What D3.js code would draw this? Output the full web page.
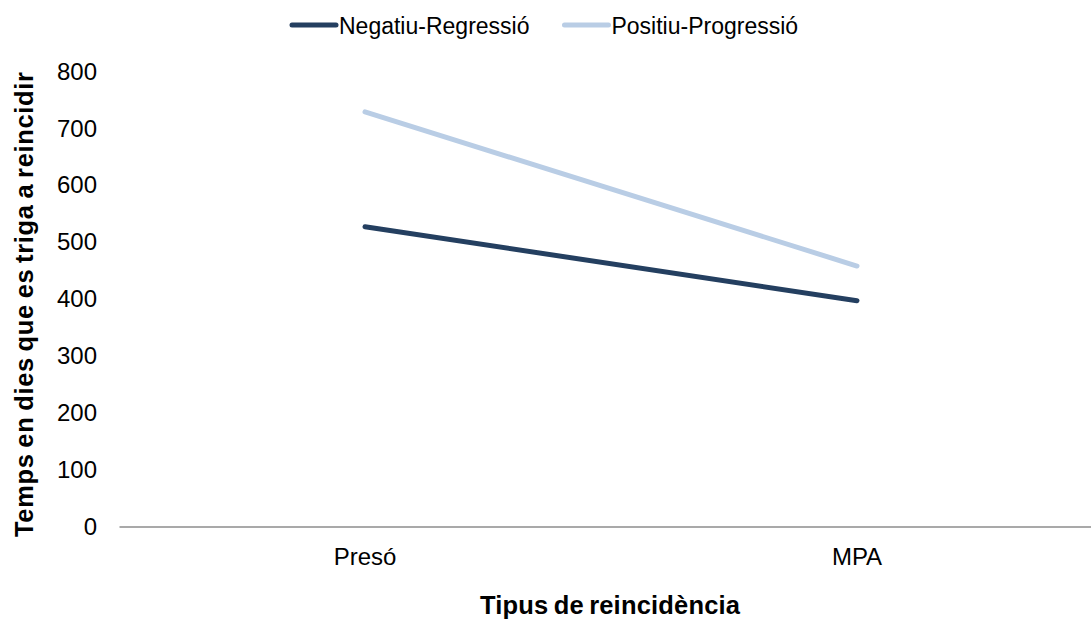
<!DOCTYPE html>
<html>
<head>
<meta charset="utf-8">
<script src="https://cdn.jsdelivr.net/npm/d3@7"></script>
<style>
  html, body { margin: 0; padding: 0; background: #fff; }
  svg { display: block; font-family: "Liberation Sans", Arial, sans-serif; }
</style>
</head>
<body>
<svg id="chart" width="1091" height="619"></svg>
<script>
const categories = ["Presó", "MPA"];
const seriesNames = ["Negatiu-Regressió", "Positiu-Progressió"];
const negatiuValues = [527, 397];
const positiuValues = [729, 458];
const yTicks = [0, 100, 200, 300, 400, 500, 600, 700, 800];
const seriesColors = ["#243F60", "#B9CDE5"];

const series = [
  { name: seriesNames[0], values: negatiuValues, color: seriesColors[0] },
  { name: seriesNames[1], values: positiuValues, color: seriesColors[1] }
];

const svg = d3.select("#chart");

const x = d3.scaleBand().domain(categories).range([119, 1103]);
const y = d3.scaleLinear().domain([0, 800]).range([526.5, 71.5]);

// Y axis tick labels (no axis line)
const yAxis = d3.axisLeft(y).tickValues(yTicks).tickSize(0).tickPadding(0).tickFormat(d3.format("d"));
const gy = svg.append("g").attr("transform", "translate(97,0)").call(yAxis);
gy.select(".domain").remove();
gy.selectAll("text").attr("font-size", 24).attr("fill", "#000")
  .attr("font-family", "'Liberation Sans', Arial, sans-serif");

// X axis
const xAxis = d3.axisBottom(x).tickSize(0).tickPadding(0);
const gx = svg.append("g").attr("transform", `translate(0,${y(0)})`).call(xAxis);
gx.select(".domain").attr("stroke", "#8c8c8c").attr("stroke-width", 1.6);
gx.selectAll("text").attr("font-size", 24).attr("fill", "#000").attr("dy", null)
  .attr("y", 38.5)
  .attr("font-family", "'Liberation Sans', Arial, sans-serif");

// Lines
const line = d3.line()
  .x((d, i) => x(categories[i]) + x.bandwidth() / 2)
  .y(d => y(d));

svg.selectAll("path.series").data(series).enter().append("path")
  .attr("class", "series")
  .attr("fill", "none")
  .attr("stroke", d => d.color)
  .attr("stroke-width", 5)
  .attr("stroke-linecap", "round")
  .attr("d", d => line(d.values));

// Axis titles
svg.append("text")
  .attr("x", 610).attr("y", 614)
  .attr("text-anchor", "middle")
  .attr("font-size", 25.5).attr("font-weight", "bold")
  .attr("word-spacing", -2)
  .attr("textLength", 260).attr("lengthAdjust", "spacing")
  .text("Tipus de reincidència");

svg.append("text")
  .attr("transform", "translate(33,304.5) rotate(-90)")
  .attr("text-anchor", "middle")
  .attr("font-size", 25.5).attr("font-weight", "bold")
  .attr("word-spacing", -2)
  .attr("textLength", 465).attr("lengthAdjust", "spacing")
  .text("Temps en dies que es triga a reincidir");

// Legend
const legend = svg.append("g");
let lx = 292;
series.forEach((s, i) => {
  const g = legend.append("g");
  g.append("line")
    .attr("x1", lx).attr("x2", lx + 44)
    .attr("y1", 25).attr("y2", 25)
    .attr("stroke", s.color).attr("stroke-width", 5)
    .attr("stroke-linecap", "round");
  const t = g.append("text")
    .attr("x", lx + 47).attr("y", 34)
    .attr("font-size", 23).attr("fill", "#000")
    .text(s.name);
  lx = lx + 47 + t.node().getComputedTextLength() + 35;
});
</script>
</body>
</html>
